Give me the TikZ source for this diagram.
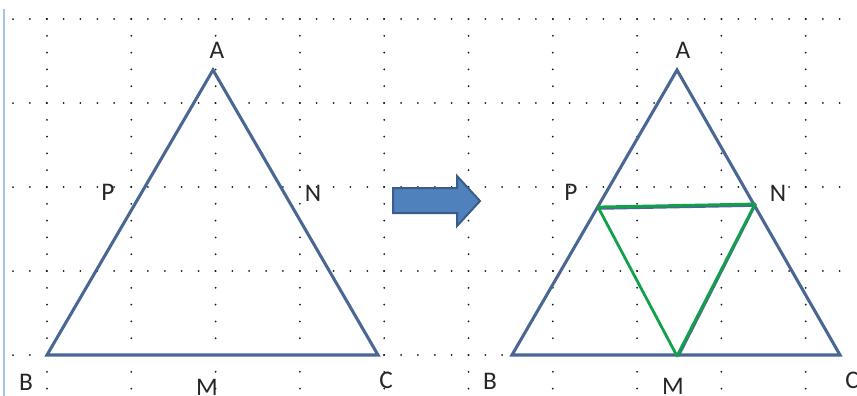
\documentclass[tikz,border=0pt]{standalone}
\usepackage{fontspec}
\setmainfont{Carlito}
\usepackage{tikz}
\usetikzlibrary{calc}
\definecolor{TriBlue}{HTML}{4A6793}
\definecolor{MidGreen}{HTML}{12A14B}
\definecolor{ArrFill}{HTML}{4F81BD}
\definecolor{ArrEdge}{HTML}{385D8A}
\definecolor{EdgeBlue}{HTML}{A9C1E8}
\tikzset{
  gridpt/.style={fill=black!90},
  tri/.style={draw=TriBlue, line width=2.3pt, line join=miter},
  mid/.style={draw=MidGreen, line width=2.1pt, line join=round},
  lbl/.style={font=\fontsize{19}{22}\selectfont, inner sep=0pt, text=black!85},
  bigarrow/.style={fill=ArrFill, draw=ArrEdge, line width=1.5pt, line join=miter}
}
\begin{document}
\begin{tikzpicture}[x=0.75pt, y=-0.75pt]
    \useasboundingbox (0,0) rectangle (857,396);
    \draw[EdgeBlue, line width=0.8pt] (4,9) -- (4,396);
    % dotted grid
    \foreach \yy in {19,103,187,271,355}
      \foreach \i in {0,...,49}
        \fill[gridpt] (13+16.87*\i,\yy) circle (1);
    \foreach \k in {0,...,9}
      \foreach \j in {0,...,22}
        \fill[gridpt] (47+84.3*\k,19+16.8*\j) circle (1);
    % left triangle
    \coordinate (A1) at (213,70);
    \coordinate (B1) at (47,355);
    \coordinate (C1) at (378,355);
    \draw[tri] (A1) -- (B1) -- (C1) -- cycle;
    \node[lbl] (lA1) at (217,50) {A};
    \node[lbl] (lP1) at (108,192) {P};
    \node[lbl] (lN1) at (313,193) {N};
    \node[lbl] (lB1) at (26,382) {B};
    \node[lbl] (lM1) at (207,387) {M};
    \node[lbl] (lC1) at (386,380) {C};
    % block arrow
    \draw[bigarrow] (393,188) -- (457,188) -- (457,176) -- (480,201) -- (457,226) -- (457,213) -- (393,213) -- cycle;
    % right triangle
    \coordinate (A2) at (677,70);
    \coordinate (B2) at (512,355);
    \coordinate (C2) at (840,355);
    \coordinate (P2) at (598,207);
    \coordinate (N2) at (755,204);
    \coordinate (M2) at (677,356);
    \draw[tri] (A2) -- (B2) -- (C2) -- cycle;
    \draw[tri, line width=1.8pt] ([yshift=-1.2pt]P2) -- ([yshift=-1.2pt]N2) -- ([xshift=1.2pt]M2);
    \draw[mid] (P2) -- (N2) -- (M2) -- cycle;
    \node[lbl] (lA2) at (683,50) {A};
    \node[lbl] (lP2) at (571,192) {P};
    \node[lbl] (lN2) at (778,193) {N};
    \node[lbl] (lB2) at (490,381) {B};
    \node[lbl] (lM2) at (673,386) {M};
    \node[lbl] (lC2) at (852,380) {C};
\end{tikzpicture}
\end{document}
